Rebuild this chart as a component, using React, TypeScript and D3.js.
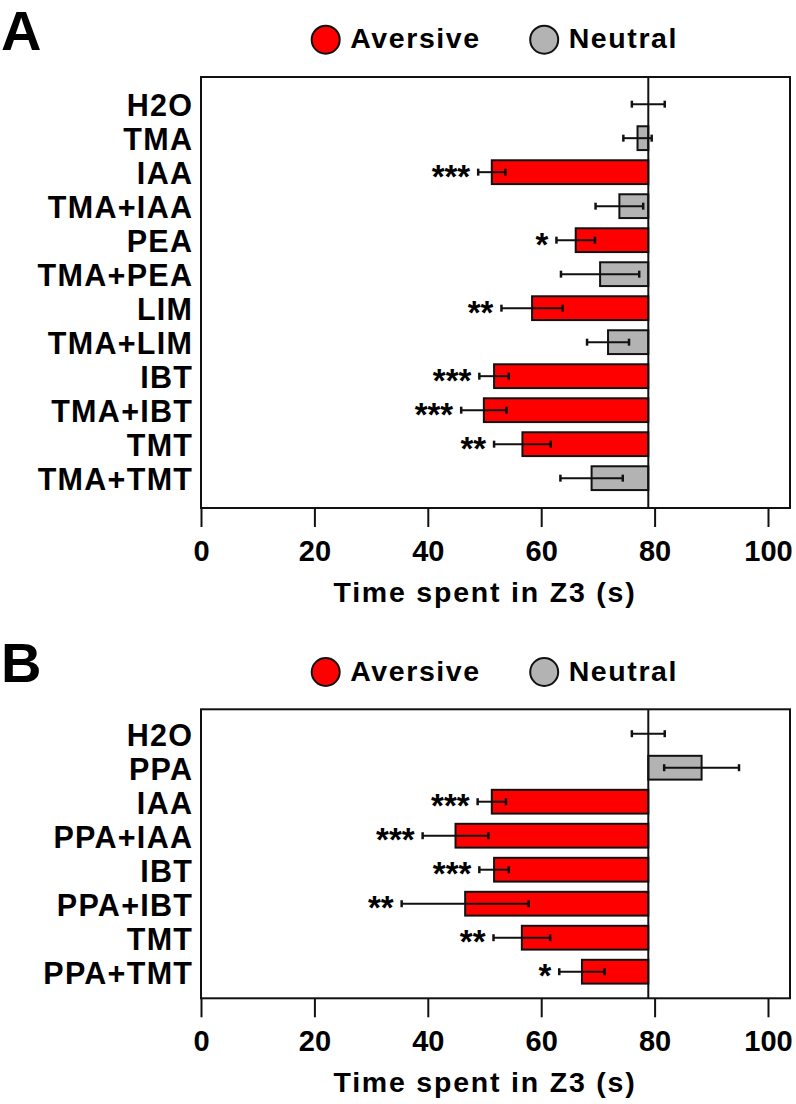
import React from "react";
import * as d3 from "d3";

const categoriesA = ["H2O", "TMA", "IAA", "TMA+IAA", "PEA", "TMA+PEA", "LIM", "TMA+LIM", "IBT", "TMA+IBT", "TMT", "TMA+TMT"];
const meansA = [78.8, 76.9, 51.2, 73.7, 66.0, 70.3, 58.3, 71.7, 51.6, 49.8, 56.6, 68.8];
const errorsA = [2.9, 2.5, 2.4, 4.2, 3.4, 6.9, 5.4, 3.7, 2.6, 4.0, 5.0, 5.5];
const typesA = ["control", "neutral", "aversive", "neutral", "aversive", "neutral", "aversive", "neutral", "aversive", "aversive", "aversive", "neutral"];
const starsA = ["", "", "***", "", "*", "", "**", "", "***", "***", "**", ""];

const categoriesB = ["H2O", "PPA", "IAA", "PPA+IAA", "IBT", "PPA+IBT", "TMT", "PPA+TMT"];
const meansB = [78.8, 88.2, 51.2, 44.8, 51.6, 46.5, 56.5, 67.1];
const errorsB = [2.9, 6.6, 2.5, 5.8, 2.6, 11.2, 5.0, 4.0];
const typesB = ["control", "neutral", "aversive", "aversive", "aversive", "aversive", "aversive", "aversive"];
const starsB = ["", "", "***", "***", "***", "**", "**", "*"];

const xTicks = [0, 20, 40, 60, 80, 100];
const legendItems = [
  { key: "aversive", label: "Aversive" },
  { key: "neutral", label: "Neutral" },
];
const xTitle = "Time spent in Z3 (s)";

const COLORS: Record<string, string> = { aversive: "#ff0000", neutral: "#b3b3b3", control: "none" };
const FONT = "'Liberation Sans', Arial, Helvetica, sans-serif";
const STROKE = "#111";

const x = d3.scaleLinear().domain([0, 100]).range([201.5, 768.5]);
const FRAME_LEFT = 201;
const FRAME_RIGHT = 790;
const ROW_STEP = 34;
const STAR_FS = 33;

type PanelProps = {
  letter: string;
  categories: string[];
  means: number[];
  errors: number[];
  types: string[];
  stars: string[];
  top: number;
  bottom: number;
};

function Panel({ letter, categories, means, errors, types, stars, top, bottom }: PanelProps) {
  const n = categories.length;
  const po = ((bottom - top) / ROW_STEP - n + 0.3) / 2;
  const y = d3
    .scaleBand<string>()
    .domain(categories)
    .range([top, bottom])
    .paddingInner(0.3)
    .paddingOuter(po)
    .align(0.46);
  const bw = y.bandwidth();
  const base = means[0];
  const xb = x(base);
  const lsp = 1.3;
  return (
    <g>
      <text x={1} y={top - 27} fontFamily={FONT} fontWeight="bold" fontSize={56} fill="#000">
        {letter}
      </text>
      {legendItems.map((it, i) => {
        const cx = i === 0 ? 325.7 : 544.2;
        const cy = top - 37.3;
        return (
          <g key={it.key}>
            <circle cx={cx} cy={cy} r={14} fill={COLORS[it.key]} stroke={STROKE} strokeWidth={2} />
            <text
              x={cx + 24.5}
              y={top - 28.8}
              fontFamily={FONT}
              fontWeight="bold"
              fontSize={28.5}
              letterSpacing={1.6}
              fill="#000"
            >
              {it.label}
            </text>
          </g>
        );
      })}
      <rect x={FRAME_LEFT} y={top} width={FRAME_RIGHT - FRAME_LEFT} height={bottom - top} fill="none" stroke={STROKE} strokeWidth={2} />
      {categories.map((c, i) => {
        const yc = (y(c) as number) + bw / 2;
        const m = means[i];
        const e = errors[i];
        const x0 = Math.min(x(m), xb);
        const w = Math.abs(x(m) - xb);
        return (
          <g key={c}>
            {types[i] !== "control" && w > 0 && (
              <rect x={x0} y={y(c)} width={w} height={bw} fill={COLORS[types[i]]} stroke={STROKE} strokeWidth={2} />
            )}
            <line x1={x(m - e)} x2={x(m + e)} y1={yc} y2={yc} stroke={STROKE} strokeWidth={2} />
            <line x1={x(m - e)} x2={x(m - e)} y1={yc - 3.5} y2={yc + 3.5} stroke={STROKE} strokeWidth={2.5} />
            <line x1={x(m + e)} x2={x(m + e)} y1={yc - 3.5} y2={yc + 3.5} stroke={STROKE} strokeWidth={2.5} />
            {stars[i] && (
              <text
                x={x(m - e) - 8}
                y={yc + 0.47 * STAR_FS}
                textAnchor="end"
                fontFamily={FONT}
                fontWeight="bold"
                fontSize={STAR_FS}
                fill="#000"
              >
                {stars[i]}
              </text>
            )}
            <text
              x={192 + lsp}
              y={yc + 12}
              textAnchor="end"
              fontFamily={FONT}
              fontWeight="bold"
              fontSize={30.5}
              letterSpacing={lsp}
              fill="#000"
            >
              {c}
            </text>
          </g>
        );
      })}
      <line x1={xb} x2={xb} y1={top} y2={bottom} stroke={STROKE} strokeWidth={2} />
      {xTicks.map((t) => (
        <g key={t}>
          <line x1={x(t)} x2={x(t)} y1={bottom} y2={bottom + 19} stroke={STROKE} strokeWidth={2} />
          <text x={x(t)} y={bottom + 52.5} textAnchor="middle" fontFamily={FONT} fontWeight="bold" fontSize={29} fill="#000">
            {t}
          </text>
        </g>
      ))}
      <text
        x={x(50)}
        y={bottom + 93.7}
        textAnchor="middle"
        fontFamily={FONT}
        fontWeight="bold"
        fontSize={28.5}
        letterSpacing={1.8}
        fill="#000"
      >
        {xTitle}
      </text>
    </g>
  );
}

export default function App() {
  return (
    <svg
      width={796}
      height={1104}
      viewBox="0 0 796 1104"
      style={{ position: "absolute", left: 0, top: 0, background: "#fff" }}
    >
      <rect x={0} y={0} width={796} height={1104} fill="#fff" />
      <Panel letter="A" categories={categoriesA} means={meansA} errors={errorsA} types={typesA} stars={starsA} top={77} bottom={508} />
      <Panel letter="B" categories={categoriesB} means={meansB} errors={errorsB} types={typesB} stars={starsB} top={709.3} bottom={998.3} />
    </svg>
  );
}
